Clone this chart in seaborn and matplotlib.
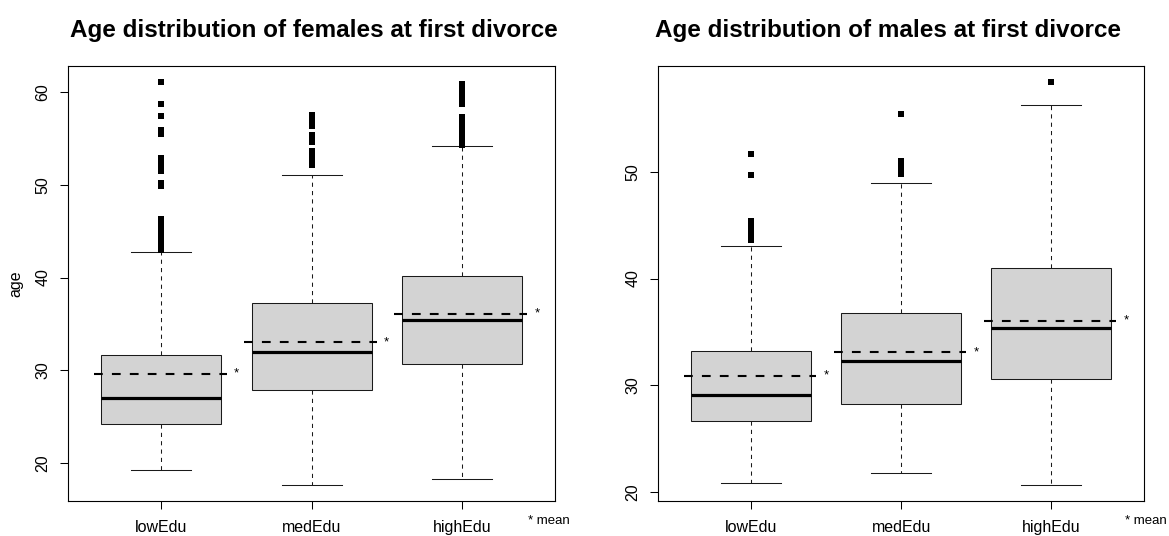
import numpy as np
import pandas as pd
import matplotlib
matplotlib.use("Agg")
import matplotlib.pyplot as plt
from matplotlib.ticker import MultipleLocator
import seaborn as sns

# ---------------- data ----------------
groups = ["lowEdu", "medEdu", "highEdu"]

# five-number summaries: lower whisker, Q1, median, Q3, upper whisker
fem_lowEdu = [19.25, 24.24, 27.04, 31.60, 42.75]
fem_medEdu = [17.66, 27.83, 31.93, 37.25, 51.08]
fem_highEdu = [18.34, 30.71, 35.38, 40.12, 54.18]
fem_means = [29.63, 33.04, 36.10]

male_lowEdu = [20.80, 26.62, 29.09, 33.21, 43.08]
male_medEdu = [21.80, 28.25, 32.30, 36.78, 48.96]
male_highEdu = [20.66, 30.59, 35.37, 40.96, 56.27]
male_means = [30.87, 33.08, 36.05]

# outliers
fem_out_lowEdu = [61.08, 58.74, 57.37, 55.9, 55.7, 55.5, 52.9, 52.6, 52.3, 52.0,
                  51.7, 51.5, 50.2, 49.9, 46.3, 46.0, 45.7, 45.4, 45.1, 44.8,
                  44.5, 44.2, 43.9, 43.6, 43.3, 43.0]
fem_out_medEdu = [57.5, 57.2, 56.9, 56.6, 56.3, 55.4, 55.1, 54.8, 54.6, 53.6,
                  53.3, 53.0, 52.7, 52.4, 52.1]
fem_out_highEdu = [60.8, 60.5, 60.2, 59.9, 59.6, 59.3, 59.0, 58.7, 57.3, 57.0,
                   56.7, 56.4, 56.1, 55.8, 55.5, 55.2, 54.9, 54.6, 54.3]

male_out_lowEdu = [51.68, 49.71, 45.4, 45.1, 44.8, 44.5, 44.2, 43.9, 43.6]
male_out_medEdu = [55.45, 51.0, 50.7, 50.4, 50.1, 49.8]
male_out_highEdu = [58.43]

titles = ["Age distribution of females at first divorce",
          "Age distribution of males at first divorce"]
ylabel = "age"
mean_note = "* mean"

# ---------------- style ----------------
plt.rcParams["font.family"] = ["Liberation Sans", "DejaVu Sans"]
plt.rcParams["axes.linewidth"] = 0.8
plt.rcParams["lines.scale_dashes"] = True

fig = plt.figure(figsize=(11.69, 5.36), dpi=100)
ax_f = fig.add_axes([0.0584, 0.0653, 0.4163, 0.8121])
ax_m = fig.add_axes([0.5631, 0.0653, 0.4157, 0.8121])


def build(summaries):
    rows = []
    for g, vals in zip(groups, summaries):
        for v in vals:
            rows.append((g, v))
    return pd.DataFrame(rows, columns=["group", "age"])


def draw(ax, summaries, outliers, means, title, title_x, note_x, show_ylabel):
    box_df = build(summaries)
    out_df = build(outliers)
    sns.boxplot(data=box_df, x="group", y="age", order=groups, ax=ax,
                whis=(0, 100), width=0.8, color="#D3D3D3", saturation=1,
                linecolor="#1a1a1a", linewidth=0.75, showfliers=False,
                medianprops=dict(linewidth=2.3, color="black"),
                whiskerprops=dict(linestyle=(0, (4, 4)), linewidth=0.75),
                capprops=dict(linewidth=0.75))
    sns.stripplot(data=out_df, x="group", y="age", order=groups, ax=ax,
                  jitter=False, marker="s", size=3.8, color="black",
                  linewidth=0, zorder=5)
    pos = np.arange(len(groups))
    ax.hlines(means, pos - 0.45, pos + 0.435, colors="black",
              linestyles=(0, (4.2, 4.4)), linewidth=1.5, zorder=6)
    for p, m in zip(pos, means):
        ax.text(p + 0.5, m, "*", ha="center", va="center", fontsize=9.5,
                color="black")

    # R-like limits (4% extension)
    allv = np.concatenate([np.ravel(summaries)] + [np.ravel(o) for o in outliers])
    lo, hi = allv.min(), allv.max()
    pad = 0.04 * (hi - lo)
    ax.set_ylim(lo - pad, hi + pad)
    n = len(groups)
    ax.set_xlim(-0.5 - 0.04 * n, n - 0.5 + 0.04 * n)

    ax.yaxis.set_major_locator(MultipleLocator(10))
    ax.tick_params(axis="both", direction="out", length=6, width=0.75,
                   labelsize=11.5, pad=8, colors="black")
    ax.tick_params(axis="y", labelrotation=90, pad=7)
    for lab in ax.get_yticklabels():
        lab.set_va("center")
    ax.set_xlabel("")
    if show_ylabel:
        ax.set_ylabel(ylabel, fontsize=11.5)
        ax.yaxis.set_label_coords(-0.092, 0.5)
    else:
        ax.set_ylabel("")
    for s in ax.spines.values():
        s.set_visible(True)
        s.set_color("black")
        s.set_linewidth(0.8)
    ax.set_title(title, fontsize=17.5, fontweight="bold", x=title_x, pad=21)
    ax.annotate(mean_note, xy=(note_x, -0.052), xycoords="axes fraction",
                ha="left", va="baseline", fontsize=9.5, annotation_clip=False)


draw(ax_f, [fem_lowEdu, fem_medEdu, fem_highEdu],
     [fem_out_lowEdu, fem_out_medEdu, fem_out_highEdu], fem_means,
     titles[0], 0.505, 0.9446, True)
draw(ax_m, [male_lowEdu, male_medEdu, male_highEdu],
     [male_out_lowEdu, male_out_medEdu, male_out_highEdu], male_means,
     titles[1], 0.4726, 0.960, False)

fig.savefig("out.png", dpi=100, facecolor="white")
